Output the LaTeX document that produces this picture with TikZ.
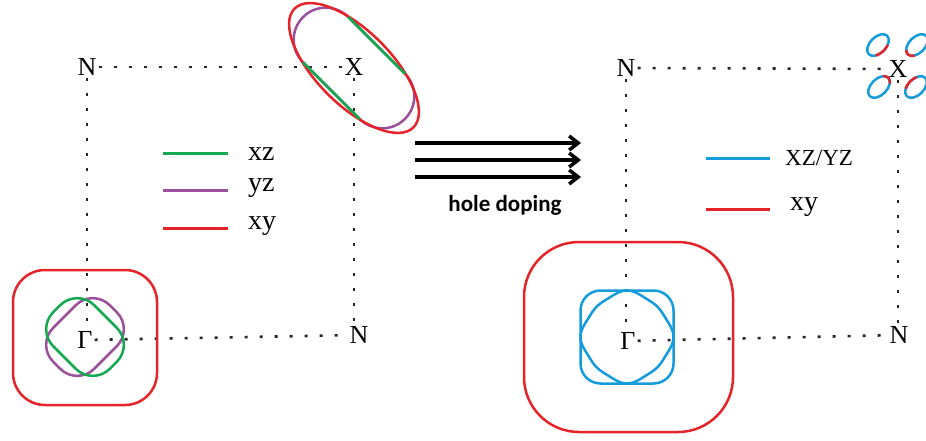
\documentclass[tikz,border=0pt]{standalone}
\usepackage{fontspec}
\setmainfont{Liberation Serif}
\newfontfamily\carl{Carlito}
\usetikzlibrary{arrows.meta}
\definecolor{fsred}{RGB}{230,35,40}
\definecolor{fsgreen}{RGB}{20,168,80}
\definecolor{fspurple}{RGB}{155,80,155}
\definecolor{fsblue}{RGB}{20,155,220}
\begin{document}
\begin{tikzpicture}[x=1pt,y=-1pt,
  band/.style={line width=2.5pt},
  bz/.style={line width=2.6pt, dash pattern=on 3pt off 12pt, black!85},
  lbl/.style={font=\fontsize{26}{26}\selectfont, inner sep=2pt},
  leg/.style={font=\fontsize{28}{28}\selectfont, anchor=west, inner sep=0pt},
  legline/.style={line width=3pt},
  dop/.style={line width=3.5pt, -{Straight Barb[length=9pt,width=14pt]}}]
\useasboundingbox (0,0) rectangle (926,441);

% ---------- left panel labels
\node[lbl] (N1) at (87,67) {N};
\node[lbl] (X1) at (354,67) {X};
\node[lbl] (G1) at (85,340) {Γ};
\node[lbl] (N2) at (359,335) {N};
\draw[bz] (N1) -- (X1);
\draw[bz] (N1) -- (N1 |- G1.north);
\draw[bz] (G1) -- (N2);
\draw[bz] (X1) -- (X1 |- N2.north);

% ---------- left Gamma pockets
\draw[band,fsred,rounded corners=32] (13,270) rectangle (157,405);
\begin{scope}[shift={(85,337)}]
  \draw[band,fspurple,rotate=45,rounded corners=24] (-40,-29) rectangle (40,29);
  \draw[band,fsgreen,rotate=-45,rounded corners=24] (-40,-29) rectangle (40,29);
\end{scope}

% ---------- left X pocket
\begin{scope}[shift={(354,68)}, rotate=-45]
  \draw[band,fspurple,rounded corners=31.9] (-72,-32) rectangle (72,32);
  \draw[band,fsred] (0,0) ellipse [x radius=84, y radius=37];
  \draw[band,fsgreen] (-40,-32) -- (40,-32);
  \draw[band,fsgreen] (-40,32) -- (40,32);
\end{scope}

% ---------- left legend
\coordinate (lg1a) at (163,153); \coordinate (lg1b) at (228,153);
\coordinate (lg2a) at (163,190); \coordinate (lg2b) at (228,190);
\coordinate (lg3a) at (163,228); \coordinate (lg3b) at (228,228);
\draw[legline,fsgreen] (lg1a) -- (lg1b);
\draw[legline,fspurple] (lg2a) -- (lg2b);
\draw[legline,fsred] (lg3a) -- (lg3b);
\node[leg] (t1) at (248,154) {xz};
\node[leg] (t2) at (248,188) {yz};
\node[leg] (t3) at (248,226) {xy};

% ---------- arrows
\coordinate (a1s) at (415,143); \coordinate (a1e) at (581,143);
\coordinate (a2s) at (415,160); \coordinate (a2e) at (581,160);
\coordinate (a3s) at (415,177); \coordinate (a3e) at (581,177);
\draw[dop] (a1s) -- (a1e);
\draw[dop] (a2s) -- (a2e);
\draw[dop] (a3s) -- (a3e);
\node[font=\carl\bfseries\fontsize{23}{23}\selectfont] (hd) at (505,205) {hole doping};

% ---------- right panel labels
\node[lbl] (N3) at (626,68) {N};
\node[lbl] (X2) at (898,69) {X};
\node[lbl] (G2) at (628,341) {Γ};
\node[lbl] (N4) at (899,335) {N};
\draw[bz] (N3) -- (X2);
\draw[bz] (N3) -- (N3 |- G2.north);
\draw[bz] (G2) -- (N4);
\draw[bz] (X2) -- (X2 |- N4.north);

% ---------- right Gamma pockets
\draw[band,fsred,rounded corners=55] (524,242) rectangle (733,432);
\draw[band,fsblue,rounded corners=20] (580.5,290.5) rectangle (673.5,383.5);
\begin{scope}[shift={(627,337)}]
  \draw[band,fsblue] plot[domain=0:360, samples=241, smooth] (\x:{44+1.8*cos(4*\x)+0.7*cos(8*\x)}) -- cycle;
\end{scope}

% ---------- right X pockets
\foreach \cx/\cy/\t in {878/45/96, 917/45/172, 879/87/2, 916/87/-93} {
  \pgfmathsetmacro{\ta}{\t-38}
  \pgfmathsetmacro{\tb}{\t+38}
  \begin{scope}[shift={(\cx,\cy)}, rotate=45]
    \draw[band,fsblue] (0,0) ellipse [x radius=13, y radius=8];
    \draw[band,fsred] plot[domain=\ta:\tb, samples=30, smooth] ({13*cos(\x)},{8*sin(\x)});
  \end{scope}
}

% ---------- right legend
\coordinate (lg4a) at (706,158); \coordinate (lg4b) at (770,158);
\coordinate (lg5a) at (706,209); \coordinate (lg5b) at (770,209);
\draw[legline,fsblue] (lg4a) -- (lg4b);
\draw[legline,fsred] (lg5a) -- (lg5b);
\node[leg,font=\fontsize{23}{23}\selectfont] (t4) at (785,158) {XZ/YZ};
\node[leg] (t5) at (790,207) {xy};
\end{tikzpicture}
\end{document}
